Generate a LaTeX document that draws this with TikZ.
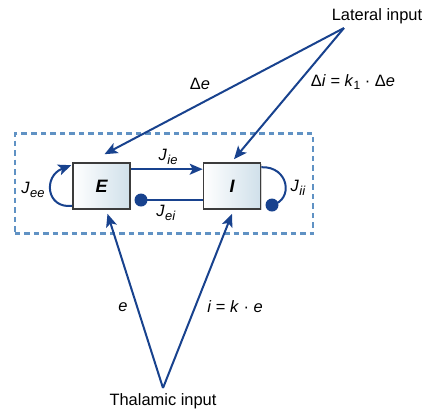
\documentclass[tikz,border=0pt]{standalone}
\usepackage{fontspec}
\setmainfont{Liberation Sans}
\usetikzlibrary{arrows.meta,shadows}
\definecolor{linkblue}{RGB}{24,66,142}
\definecolor{dashblue}{RGB}{96,146,196}
\definecolor{boxfill}{RGB}{208,224,234}
\definecolor{boxedge}{RGB}{60,60,60}
\newcommand{\jlab}[1]{\textit{J}\kern0.5pt\raisebox{-0.45ex}{\fontsize{13}{13}\selectfont\textit{#1}}}
\begin{document}
\begin{tikzpicture}[x=1bp,y=-1bp,
  every node/.style={font=\fontsize{16.5}{19}\selectfont},
  unit/.style={draw=boxedge,line width=1.6bp,minimum width=57bp,minimum height=46bp,inner sep=0pt,
    left color=white,right color=boxfill,
    drop shadow={shadow xshift=1.2bp,shadow yshift=-1.2bp,opacity=0.35},
    font=\fontsize{18}{20}\selectfont\bfseries\itshape},
  conn/.style={draw=linkblue,line width=2bp},
  arr/.style={conn,-{Stealth[length=13bp,width=11bp,inset=3bp]}},
  dotnode/.style={circle,fill=linkblue,inner sep=0pt,minimum size=13bp},
  lab/.style={inner sep=1pt}
]
\useasboundingbox (0,0) rectangle (431,416);
% dashed frame
\node[draw=dashblue,dash pattern=on 5.5bp off 4bp,line width=2.5bp,minimum width=298bp,minimum height=100bp,inner sep=0pt] (frame) at (164,183.5) {};
% units
\node[unit] (E) at (101.5,186) {E};
\node[unit] (I) at (232,186) {I};
% J_ie
\draw[arr] ([yshift=-7bp]E.north east) -- ([yshift=-7bp]I.north west);
\node[lab] (jie) at (168,157) {\jlab{ie}};
% J_ei
\node[dotnode] (d1) at (141,200) {};
\draw[conn] (d1.center) -- (d1.center -| I.west);
\node[lab] (jei) at (166,213) {\jlab{ei}};
% J_ee
\draw[arr] ([yshift=4bp]E.south west) .. controls (46,209) and (43,176) .. ([shift={(-1bp,-3bp)}]E.north west);
\node[lab] (jee) at (33,190) {\jlab{ee}};
% J_ii
\node[dotnode] (d2) at (272,205) {};
\draw[conn] ([yshift=-5bp]I.north east) .. controls (289,166) and (294,200) .. (d2.center);
\node[lab] (jii) at (298,188) {\jlab{ii}};
% lateral input
\coordinate (lat) at (344,28);
\node[lab] (latt) at (377,16) {Lateral input};
\draw[arr] (lat) -- ([xshift=3bp,yshift=8bp]E.north);
\draw[arr] (lat) -- ([xshift=2bp,yshift=3bp]I.north);
\node[lab] (de) at (200,84) {\textup{Δ}\textit{e}};
\node[lab] (di) at (353,82) {\textup{Δ}\textit{i} = \textit{k}\raisebox{-0.45ex}{\fontsize{12}{12}\selectfont 1} · \textup{Δ}\textit{e}};
% thalamic input
\coordinate (thal) at (163,388);
\node[lab] (tht) at (163,401) {Thalamic input};
\draw[arr] (thal) -- ([xshift=6bp,yshift=-4bp]E.south);
\draw[arr] (thal) -- ([xshift=0bp,yshift=-4bp]I.south);
\node[lab] (el) at (123,307) {\textit{e}};
\node[lab] (il) at (235,307) {\textit{i} = \textit{k} · \textit{e}};
\end{tikzpicture}
\end{document}
